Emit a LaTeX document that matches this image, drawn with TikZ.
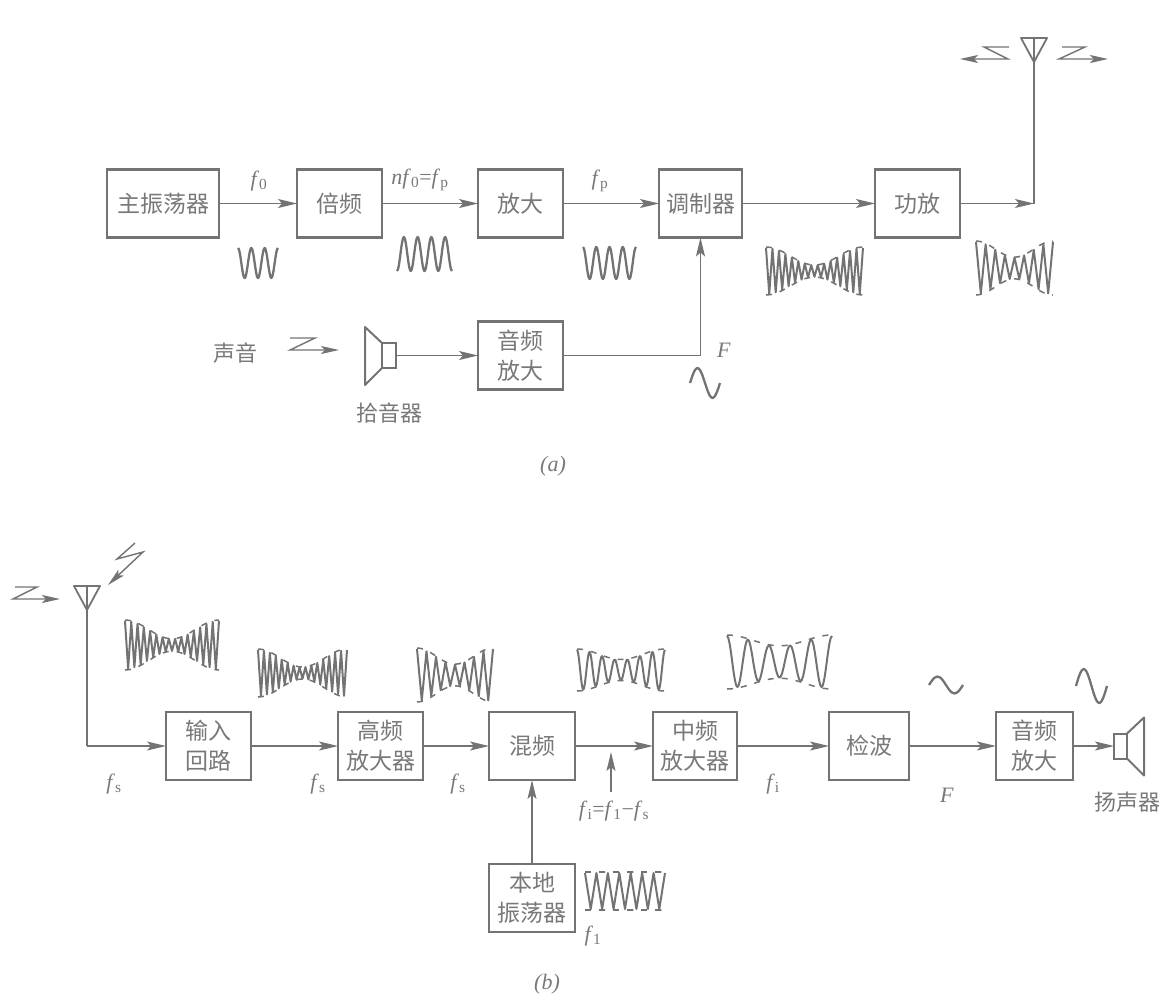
\documentclass[tikz,border=0pt]{standalone}
\usepackage{fontspec}
\setmainfont{Noto Sans CJK SC}
\newfontfamily\tagfont{Liberation Serif}
\usetikzlibrary{arrows.meta, positioning}
\definecolor{inkgray}{gray}{0.45}
\definecolor{textgray}{gray}{0.47}
\tikzset{
  box/.style={rectangle,draw=inkgray,line width=2.2pt,align=center,inner sep=0pt,outer sep=0pt,
    minimum width=85pt,minimum height=68pt,text=textgray,font=\fontsize{23}{30}\selectfont},
  line/.style={draw=inkgray,line width=1.4pt,-{Stealth[length=19pt,width=9pt,inset=4pt]}},
  wire/.style={draw=inkgray,line width=1.8pt},
  zig/.style={draw=inkgray,line width=1.4pt,-{Stealth[length=18pt,width=8pt,inset=4pt]}},
  wavepen/.style={draw=inkgray,line width=2.3pt,line join=round},
  tag/.style={text=textgray,inner sep=0pt,font=\fontsize{22}{24}\tagfont},
  cjktag/.style={text=textgray,inner sep=0pt,font=\fontsize{22}{26}\selectfont},
  cap box/.style={rectangle,draw=inkgray,line width=2pt,inner sep=0pt,outer sep=0pt}
}
\newcommand{\fq}[1]{\textit{f}\textsubscript{#1}}
% x0, x1, centre y, amplitude, phase, periods
\newcommand{\sinewave}[6]{
  \draw[wavepen] plot[smooth,domain=0:1,samples=12*#6+1]
    ({#1+(#2-#1)*\x},{#3-#4*sin(360*#6*\x+#5)});
}
% x0, x1, centre y, amplitude, waist ratio, periods, samples
\newcommand{\amwave}[7]{
  \draw[wavepen,line width=2pt] plot[domain=0:1,samples=#7]
    ({#1+(#2-#1)*\x},{#3-#4*(1-(1-#5)*sin(180*\x)^2)*cos(360*#6*\x)});
  \draw[wavepen,line width=1.5pt,dash pattern=on 6pt off 8pt] plot[smooth,domain=0:1,samples=21]
    ({#1+(#2-#1)*\x},{#3-(#4+1)*(1-(1-#5)*sin(180*\x)^2)});
  \draw[wavepen,line width=1.5pt,dash pattern=on 6pt off 8pt] plot[smooth,domain=0:1,samples=21]
    ({#1+(#2-#1)*\x},{#3+(#4+1)*(1-(1-#5)*sin(180*\x)^2)});
}
\begin{document}
\begin{tikzpicture}[x=1pt,y=-1pt,node distance=84pt and 96pt]
\useasboundingbox (0,0) rectangle (1162,1002);

\node[box,minimum width=112pt] (osc) at (163,203.5) {主振荡器};
\node[box,right=78pt of osc] (mul) {倍频};
\node[box,right=of mul] (amp) {放大};
\node[box,right=of amp,minimum width=83pt] (mod) {调制器};
\node[box,right=133pt of mod] (pa) {功放};
\node[box,below=of amp] (audioa) {音频\\放大};
\node[cap box,minimum width=14pt,minimum height=25pt,left=82pt of audioa] (micbox) {};
\coordinate (anta) at (1034,62);
\coordinate (feeda) at (anta |- pa);

\draw[line] (osc) -- (mul);
\draw[line] (mul) -- (amp);
\draw[line] (amp) -- (mod);
\draw[line] (mod) -- (pa);
\draw[line] (pa) -- (feeda);
\draw[wire] (feeda) -- (anta);
\draw[line] (audioa) -| (mod);
\draw[line] (micbox) -- (audioa);
\draw[wire,line join=round,line width=2pt] (micbox.north west) -- ++(-17,-16) -- ++(0,58) -- (micbox.south west);
\draw[wire,line join=round] (anta) -- ++(-13,-24) -- ++(26,0) -- cycle (anta) -- ++(0,-24);
\draw[zig] (1062,47) -- (1085,47) -- (1059,59) -- (1108,59);
\draw[zig] (1009,47) -- (984,47) -- (1008,59) -- (960,59);
\draw[zig] (290,338) -- (315,338) -- (290,350) -- (339,350);

\node[tag] (fzero) at (259,181) {\fq{0}};
\node[tag] (fmul) at (420,180) {\textit{n}\fq{0}=\fq{p}};
\node[tag] (fpump) at (600,181) {\fq{p}};
\node[tag] (Fa) at (724,350) {\textit{F}};
\node[cjktag] (voice) at (235,353) {声音};
\node[cjktag,below=35pt of micbox] (mic) {拾音器};
\node[tag] (capa) at (553,466) {\textit{(a)}};

\sinewave{238}{278}{263}{15}{90}{3}
\sinewave{397}{452}{254}{17}{-90}{4}
\sinewave{583}{636}{263}{16}{90}{4}
\sinewave{690}{720}{383}{15}{0}{1}
\amwave{766}{863}{271}{23}{.25}{15}{31}
\amwave{976}{1053}{268}{26}{.4}{8}{17}

\node[box] (input) at (208.5,746) {输入\\回路};
\node[box,right=87pt of input] (hf) {高频\\放大器};
\node[box,right=66pt of hf,minimum width=86pt] (mix) {混频};
\node[box,right=78pt of mix,minimum width=84pt] (mid) {中频\\放大器};
\node[box,right=92pt of mid,minimum width=80pt] (det) {检波};
\node[box,right=87pt of det,minimum width=77pt] (audiob) {音频\\放大};
\node[box,below=of mix,minimum width=86pt] (lo) {本地\\振荡器};
\node[cap box,minimum width=13pt,minimum height=25pt,right=41pt of audiob] (spkbox) {};
\coordinate (antb) at (87,610);
\coordinate (feedb) at (antb |- input);
\coordinate (mixnote) at (611,792);
\coordinate (mixwire) at (mixnote |- mix);

\draw[wire] (antb) -- (feedb);
\draw[line] (feedb) -- (input);
\draw[line] (input) -- (hf);
\draw[line] (hf) -- (mix);
\draw[line] (mix) -- (mid);
\draw[line] (mid) -- (det);
\draw[line] (det) -- (audiob);
\draw[line] (audiob) -- (spkbox);
\draw[line] (lo) -- (mix);
\draw[line] (mixnote) -- ([yshift=-6pt]mixwire);
\draw[wire,line join=round,line width=2pt] (spkbox.north east) -- ++(17,-16) -- ++(0,58) -- (spkbox.south east);
\draw[wire,line join=round] (antb) -- ++(-13,-24) -- ++(26,0) -- cycle (antb) -- ++(0,-24);
\draw[zig] (15,587) -- (37,587) -- (13,599) -- (60,599);
\draw[zig] (135,543) -- (117,559) -- (143,552) -- (108,585);

\node[tag] (fsa) at (114,784) {\fq{s}};
\node[tag] (fsb) at (318,784) {\fq{s}};
\node[tag] (fsc) at (458,784) {\fq{s}};
\node[tag] (fif) at (614,811) {\fq{i}=\fq{1}−\fq{s}};
\node[tag] (fib) at (773,784) {\fq{i}};
\node[tag] (flo) at (593,936) {\fq{1}};
\node[tag] (Fb) at (947,795) {\textit{F}};
\node[cjktag] (spk) at (1127,802) {扬声器};
\node[tag] (capb) at (547,984) {\textit{(b)}};

\amwave{125}{219}{645}{24}{.25}{15}{31}
\amwave{258}{347}{673}{23}{.25}{15}{31}
\amwave{417}{493}{675}{26}{.4}{8}{17}
\amwave{577}{665}{670}{20}{.5}{7}{113}
\amwave{727}{832}{662}{26}{.6}{5}{81}
\sinewave{929}{963}{685}{8.5}{0}{1}
\sinewave{1076}{1107}{686}{17}{0}{1}
\amwave{585}{665}{891}{18}{1}{7}{15}
\end{tikzpicture}
\end{document}
